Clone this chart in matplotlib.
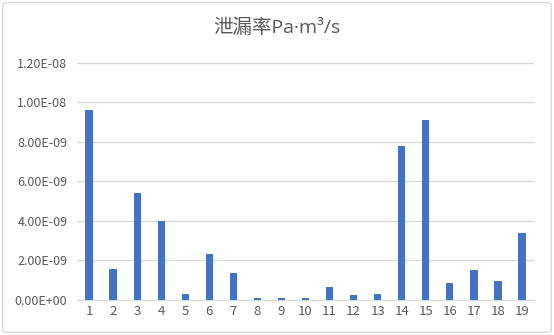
import matplotlib.pyplot as plt
from matplotlib.ticker import FuncFormatter, MultipleLocator
from matplotlib.patches import FancyBboxPatch

plt.rcParams['font.family'] = ['Noto Sans CJK SC', 'DejaVu Sans']

# Data
samples = [str(i) for i in range(1, 20)]
leak_rate = [9.62e-9, 1.58e-9, 5.40e-9, 3.99e-9, 0.29e-9, 2.30e-9, 1.38e-9,
             0.08e-9, 0.08e-9, 0.08e-9, 0.64e-9, 0.25e-9, 0.29e-9, 7.81e-9,
             9.12e-9, 0.86e-9, 1.50e-9, 0.93e-9, 3.40e-9]

title = '泄漏率Pa·m³/s'
text_color = '#595959'
grid_color = '#D9D9D9'

fig = plt.figure(figsize=(5.54, 3.35), dpi=100)
ax = fig.add_axes([0.139, 0.105, 0.825, 0.707])

ax.bar(samples, leak_rate, width=0.3, color='#4472C4', zorder=3)

ax.set_xlim(-0.5, len(samples) - 0.5)
ax.set_ylim(0, 1.2e-8)
ax.yaxis.set_major_locator(MultipleLocator(2e-9))
ax.yaxis.set_major_formatter(FuncFormatter(lambda v, p: f'{v:.2E}'))
ax.grid(axis='y', color=grid_color, linewidth=1, zorder=0)

for s in ['top', 'right', 'left']:
    ax.spines[s].set_visible(False)
ax.spines['bottom'].set_color(grid_color)
ax.tick_params(length=0, colors=text_color)
ax.tick_params(axis='y', labelsize=9, pad=7)
ax.tick_params(axis='x', labelsize=9.5, pad=4)

# Latin part in Open Sans so the middle dot stays narrow
fig.text(0.5, 0.918, title, ha='center', va='center', fontsize=14, color=text_color,
         family=['Open Sans', 'Noto Sans CJK SC'])

# chart border
border = FancyBboxPatch((0.005, 0.008), 0.99, 0.984, boxstyle='round,pad=0,rounding_size=0.008',
                        transform=fig.transFigure, fill=False, edgecolor=grid_color, linewidth=1)
fig.patches.append(border)

fig.savefig('out.png', dpi=100)
